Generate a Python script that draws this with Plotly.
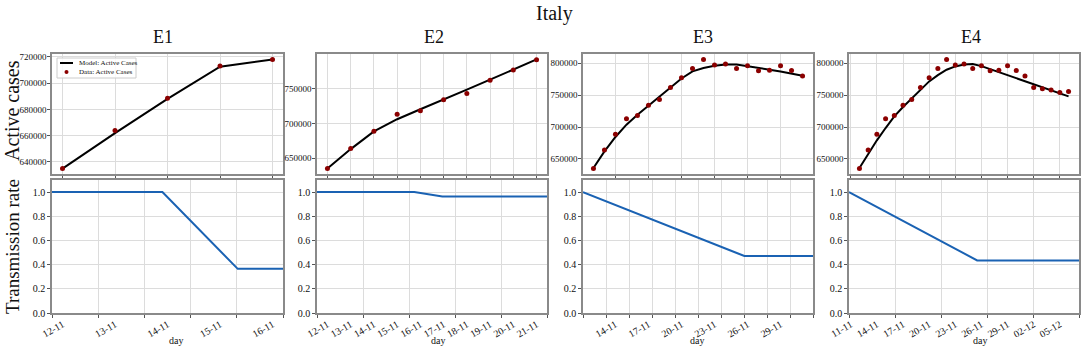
import plotly.graph_objects as go

W, H = 1084, 349

# ---------------- data ----------------
dates = ["11-11", "12-11", "13-11", "14-11", "15-11", "16-11", "17-11", "18-11", "19-11",
         "20-11", "21-11", "22-11", "23-11", "24-11", "25-11", "26-11", "27-11", "28-11",
         "29-11", "30-11", "01-12", "02-12", "03-12", "04-12", "05-12", "06-12"]

# observed active cases from 12-11 onward
active_data = [635000, 664000, 688500, 713000, 718000, 734000, 743000, 762000, 777000,
               791700, 805700, 796900, 798400, 791700, 795800, 788000, 789000, 795800,
               788500, 779700, 762000, 760000, 757800, 754000, 755700]

model_e1 = [635000, 662000, 688000, 712500, 718000]
model_e2 = [635000, 663000, 688500, 706000, 720300, 734000, 748500, 763000, 777000, 792000]
model_e3 = [635900, 661900, 684400, 703600, 719300, 733300, 747900, 762000, 776000, 787000,
            792200, 795800, 797900, 797900, 794800, 792200, 789600, 787000, 783900, 780200]
model_e4 = [635900, 658300, 679200, 698400, 716700, 731250, 744800, 758300, 771350, 781250,
            789600, 794800, 797900, 798400, 795300, 790600, 785900, 781250, 776600, 771900,
            766700, 762000, 757300, 752600, 747900]

rate_t_e1 = [0, 2.39, 4.02, 5]
rate_e1 = [1.0, 1.0, 0.365, 0.365]
rate_t_e2 = [0, 4.23, 5.45, 10]
rate_e2 = [1.0, 1.0, 0.964, 0.964]
rate_t_e3 = [0, 14.03, 20]
rate_e3 = [1.0, 0.471, 0.471]
rate_t_e4 = [0, 13.93, 25]
rate_e4 = [1.0, 0.435, 0.435]

titles = ["E1", "E2", "E3", "E4"]
legend_labels = ["Model: Active Cases", "Data: Active Cases"]
models = [model_e1, model_e2, model_e3, model_e4]
rates_t = [rate_t_e1, rate_t_e2, rate_t_e3, rate_t_e4]
rates = [rate_e1, rate_e2, rate_e3, rate_e4]
date_ticks = [[1, 2, 3, 4, 5], list(range(1, 11)), list(range(3, 20, 3)), list(range(0, 26, 3))]
top_yticks = [list(range(640000, 720001, 20000)), [650000, 700000, 750000],
              [650000, 700000, 750000, 800000], [650000, 700000, 750000, 800000]]
bottom_xticks = [list(range(0, 6)), list(range(0, 11, 2)), list(range(0, 21, 2)), list(range(0, 26, 5))]
day_label_x = [176, 438, 697, 980]
title_x = [163, 434, 703, 971]

# ---------------- style ----------------
FONT = "Liberation Serif"
GRID = "#dcdcdc"
FRAME = "#8a8a8a"
BLUE = "#1a62b3"
RED = "#8b0000"

# pixel positions of the panels
col_px = [(52, 283), (317, 547), (583, 813), (849, 1079)]
top_px = (54, 174)
bot_px = (180, 313)


def px(x):
    return x / W


def py(y):
    return 1 - y / H


def xd(p):
    return [px(p[0]), px(p[1])]


def yd(p):
    return [py(p[1]), py(p[0])]


fig = go.Figure()
layout = dict(
    template="none",
    width=W, height=H, margin=dict(l=0, r=0, t=0, b=0, pad=0),
    paper_bgcolor="white", plot_bgcolor="white",
    font=dict(family=FONT, size=10, color="#111"),
    showlegend=False,
)

axis_common = dict(showline=True, linecolor=FRAME, linewidth=1.5, mirror=True,
                   showgrid=True, gridcolor=GRID, gridwidth=1, zeroline=False,
                   automargin=False,
                   ticks="outside", ticklen=3, tickcolor="#555",
                   tickfont=dict(family=FONT, size=10, color="#111"))

for c in range(4):
    n = len(models[c])
    xs = list(range(1, n + 1))
    obs = active_data[:n]
    allv = obs + models[c]
    lo, hi = min(allv), max(allv)
    span = hi - lo
    xpad = 0.05 * (n - 1)
    xr = [1 - xpad, n + xpad]

    tx, ty = f"x{c + 1}", f"y{c + 1}"
    bx, by = f"x{c + 5}", f"y{c + 5}"
    ox = f"x{c + 9}"

    fig.add_trace(go.Scatter(x=xs, y=models[c], mode="lines", line=dict(color="black", width=2),
                             name=legend_labels[0], xaxis=tx, yaxis=ty))
    fig.add_trace(go.Scatter(x=xs, y=obs, mode="markers", marker=dict(color=RED, size=5),
                             name=legend_labels[1], xaxis=tx, yaxis=ty))
    fig.add_trace(go.Scatter(x=rates_t[c], y=rates[c], mode="lines",
                             line=dict(color=BLUE, width=2), name="Transmission rate",
                             xaxis=bx, yaxis=by))
    fig.add_trace(go.Scatter(x=[xr[0]], y=[None], mode="lines", hoverinfo="skip",
                             xaxis=ox, yaxis=by))

    layout[f"xaxis{c + 1}"] = dict(axis_common, domain=xd(col_px[c]), anchor=ty, range=xr,
                                  tickvals=date_ticks[c], showticklabels=False)
    layout[f"yaxis{c + 1}"] = dict(axis_common, domain=yd(top_px), anchor=tx,
                                  range=[lo - 0.05 * span, hi + 0.05 * span],
                                  tickvals=top_yticks[c], tickformat="d",
                                  ticklabelstandoff=-1,
                                  tickfont=dict(family=FONT, size=9, color="#111"))
    layout[f"xaxis{c + 5}"] = dict(axis_common, domain=xd(col_px[c]), anchor=by,
                                  range=[0, rates_t[c][-1]], tickvals=bottom_xticks[c],
                                  showticklabels=False)
    layout[f"yaxis{c + 5}"] = dict(axis_common, domain=yd(bot_px), anchor=bx,
                                  range=[0, 1.1], tickvals=[0, 0.2, 0.4, 0.6, 0.8, 1.0],
                                  tickformat=".1f")
    layout[f"xaxis{c + 9}"] = dict(overlaying=bx, anchor=by, side="bottom", range=xr,
                                  automargin=False,
                                  showgrid=False, zeroline=False, showline=False, ticks="",
                                  tickvals=date_ticks[c],
                                  ticktext=[dates[i] for i in date_ticks[c]],
                                  tickangle=-30, ticklabelstandoff=3,
                                  tickfont=dict(family=FONT, size=10, color="#111"))

annotations = [dict(text="Italy", x=px(554), y=py(13.5), xref="paper", yref="paper",
                    showarrow=False, font=dict(family=FONT, size=20, color="#111"),
                    xanchor="center", yanchor="middle", borderpad=0)]
for c in range(4):
    annotations.append(dict(text=titles[c], x=px(title_x[c]), y=py(37), xref="paper",
                            yref="paper", showarrow=False,
                            font=dict(family=FONT, size=18, color="#111"),
                            xanchor="center", yanchor="middle"))
    annotations.append(dict(text="day", x=px(day_label_x[c]), y=py(340), xref="paper",
                            yref="paper", showarrow=False,
                            font=dict(family=FONT, size=10, color="#111"),
                            xanchor="center", yanchor="middle"))
annotations.append(dict(text="Active cases", x=px(12), y=py(111), xref="paper", yref="paper",
                        showarrow=False, textangle=-90, borderpad=0,
                        font=dict(family=FONT, size=20, color="#111"),
                        xanchor="center", yanchor="middle"))
annotations.append(dict(text="Transmission rate", x=px(12), y=py(247), xref="paper",
                        yref="paper", showarrow=False, textangle=-90, borderpad=0,
                        font=dict(family=FONT, size=19, color="#111"),
                        xanchor="center", yanchor="middle"))

# compact legend (matplotlib style) inside E1 top panel
shapes = [
    dict(type="rect", xref="paper", yref="paper", x0=px(57), x1=px(136), y0=py(78), y1=py(58),
         line=dict(color="#cccccc", width=1), fillcolor="rgba(255,255,255,0.85)", layer="above"),
    dict(type="line", xref="paper", yref="paper", x0=px(60), x1=px(73), y0=py(63), y1=py(63),
         line=dict(color="black", width=2), layer="above"),
    dict(type="circle", xref="paper", yref="paper", x0=px(64.5), x1=px(68.5), y0=py(74),
         y1=py(70), line=dict(color=RED, width=0), fillcolor=RED, layer="above"),
]
for i, lab in enumerate(legend_labels):
    annotations.append(dict(text=lab, x=px(77), y=py(63 + 9 * i), xref="paper", yref="paper",
                            showarrow=False, font=dict(family=FONT, size=7, color="#111"),
                            xanchor="left", yanchor="middle"))
layout["annotations"] = annotations
layout["shapes"] = shapes

fig.update_layout(**layout)
# remove the browser's default body margin so the figure fills the window exactly
fig.write_html("out.html", config={"displayModeBar": False},
               post_script="document.body.style.margin='0';")
